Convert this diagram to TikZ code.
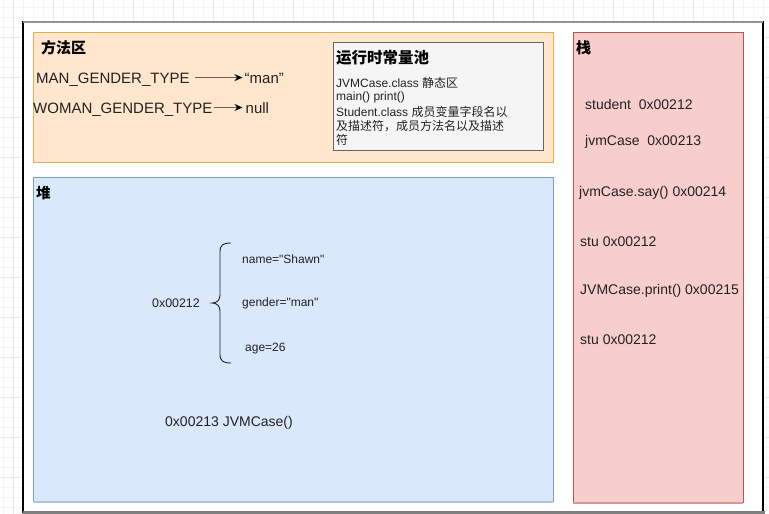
\documentclass[tikz,border=0pt]{standalone}
\usepackage{fontspec}
\setmainfont{Liberation Sans}
\newfontfamily\nomap{Liberation Sans}
\newfontfamily\cjk{Noto Sans CJK SC}
\usetikzlibrary{arrows.meta}
\newcommand\sq{{\nomap\symbol{34}}}
\definecolor{txt}{HTML}{222222}
\definecolor{gridminor}{HTML}{F5F5F5}
\definecolor{gridmajor}{HTML}{E8E8E8}
\definecolor{orfill}{HTML}{FFE6CC}
\definecolor{orline}{HTML}{DDB050}
\definecolor{blfill}{HTML}{DAE8FC}
\definecolor{blline}{HTML}{7C9CCB}
\definecolor{rdfill}{HTML}{F8CECC}
\definecolor{rdline}{HTML}{B85450}
\definecolor{gyfill}{HTML}{F5F5F5}
\definecolor{gyline}{HTML}{666666}
\definecolor{arrline}{HTML}{6B625C}
\begin{document}
\begin{tikzpicture}[x=1pt,y=-1pt,
  box/.style={draw,anchor=north west,inner sep=0pt,outer sep=0pt,line width=0.9pt},
  lbl/.style={anchor=west,inner sep=0pt,text=txt,font=\fontsize{14}{16}\selectfont},
  big/.style={anchor=base west,inner sep=0pt,text=txt,font=\fontsize{15}{17}\selectfont},
  small/.style={anchor=west,inner sep=0pt,text=txt,font=\fontsize{12}{14}\selectfont},
  ttl/.style={anchor=west,inner sep=0pt,text=black,font=\fontsize{15}{17}\selectfont\cjk\bfseries},
  arr/.style={draw=arrline,line width=1.4pt,-{Stealth[length=8pt,width=7pt,color=black]}},
  bracestyle/.style={draw=txt,line width=0.9pt}]
\useasboundingbox (0,0) rectangle (769,514);
\fill[white] (0,0) rectangle (769,514);
% background grid
\foreach \i in {0,...,77} \draw[gridminor,line width=0.6pt] ({3+10*\i},0) -- ({3+10*\i},514);
\foreach \i in {0,...,51} \draw[gridminor,line width=0.6pt] (0,{7+10*\i}) -- (769,{7+10*\i});
\foreach \i in {0,...,19} \draw[gridmajor,line width=0.6pt] ({13+40*\i},0) -- ({13+40*\i},514);
\foreach \i in {-1,...,12} \draw[gridmajor,line width=0.6pt] (0,{37+40*\i}) -- (769,{37+40*\i});
% outer frame
\node[box,fill=white,draw=black,line width=1.4pt,minimum width=740pt,minimum height=490pt] (frame) at (23,22) {};
\draw[draw=gray!85,line width=1.6pt] (frame.north west) -- (frame.north east);
\draw[draw=gray,line width=2.4pt] ([yshift=-0.6pt]frame.south west) -- ([xshift=2pt,yshift=-0.6pt]frame.south east);
% method area
\node[box,fill=orfill,draw=orline,minimum width=520pt,minimum height=130pt] (method) at (33,32) {};
\node[ttl] (methodt) at (41,48) {方法区};
\node[big] (man) at (36,83) {MAN\_GENDER\_TYPE};
\node[big] (manv) at (244.5,83) {“man”};
\node[big] (woman) at (33,113.5) {WOMAN\_GENDER\_TYPE};
\node[big] (womanv) at (245.5,113.5) {null};
\draw[arr] ([xshift=5.5pt,yshift=5.4pt]man.base east) -- ([xshift=-2pt,yshift=5.4pt]manv.base west);
\draw[arr] ([xshift=1pt,yshift=6pt]woman.base east) -- ([xshift=-3pt,yshift=6pt]womanv.base west);
% runtime constant pool
\node[box,fill=gyfill,draw=gyline,minimum width=210pt,minimum height=108pt] (pool) at (333,42) {};
\node[ttl,font=\fontsize{15.5}{17}\selectfont\cjk\bfseries] (poolt) at (336,58) {运行时常量池};
\node[small] (p1) at (336,83) {JVMCase.class {\cjk 静态区}};
\node[small] (p2) at (336,97) {main() print()};
\node[small] (p3) at (336,112) {Student.class {\cjk 成员变量字段名以}};
\node[small] (p4) at (336,126) {\cjk 及描述符，成员方法名以及描述};
\node[small] (p5) at (336,140) {\cjk 符};
% heap
\node[box,fill=blfill,draw=blline,minimum width=520pt,minimum height=324pt] (heap) at (33,177) {};
\draw[draw=blline!60,line width=1.2pt] ([yshift=-1pt]heap.south west) -- ([yshift=-1pt]heap.south east);
\node[ttl,font=\fontsize{14.5}{17}\selectfont\cjk\bfseries] (heapt) at (36,193) {堆};
\node[small,font=\fontsize{12.4}{14}\selectfont] (addr) at (152,303) {0x00212};
\node[small] (fname) at (242,259) {name=\sq Shawn\sq};
\node[small] (fgender) at (242,303) {gender=\sq man\sq};
\node[small] (fage) at (245,349) {age=26};
\coordinate (bt) at (231,243);
\coordinate (bm) at (212,303);
\coordinate (bb) at (231,363);
\draw[bracestyle] (bt) .. controls (223,243) and (220,245) .. (220,252)
  -- (220,295) .. controls (220,300) and (217,303) .. (bm)
  .. controls (217,303) and (220,306) .. (220,311)
  -- (220,354) .. controls (220,361) and (223,363) .. (bb);
\node[lbl] (jvmobj) at (165,423) {0x00213 JVMCase()};
% stack
\node[box,fill=rdfill,draw=rdline,minimum width=170pt,minimum height=470pt] (stack) at (573,32) {};
\draw[draw=rdline!60,line width=1.2pt] ([yshift=-1pt]stack.south west) -- ([yshift=-1pt]stack.south east);
\node[ttl] (stackt) at (576,48) {栈};
\node[lbl] (s1) at (585,104) {student~~0x00212};
\node[lbl] (s2) at (585,142) {jvmCase~~0x00213};
\node[lbl] (s3) at (579,193) {jvmCase.say() 0x00214};
\node[lbl] (s4) at (580,242) {stu 0x00212};
\node[lbl] (s5) at (580,291) {JVMCase.print() 0x00215};
\node[lbl] (s6) at (580,340) {stu 0x00212};
\end{tikzpicture}
\end{document}
